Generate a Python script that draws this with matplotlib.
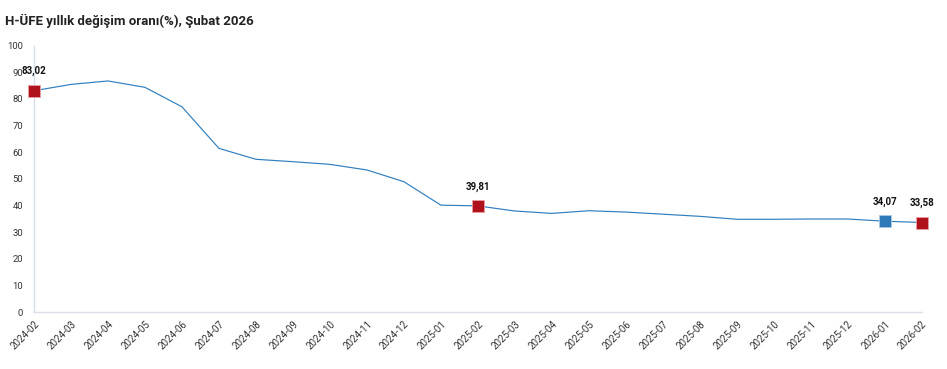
import matplotlib
matplotlib.use("Agg")
import matplotlib.pyplot as plt

months = ["2024-02", "2024-03", "2024-04", "2024-05", "2024-06", "2024-07", "2024-08",
          "2024-09", "2024-10", "2024-11", "2024-12", "2025-01", "2025-02", "2025-03",
          "2025-04", "2025-05", "2025-06", "2025-07", "2025-08", "2025-09", "2025-10",
          "2025-11", "2025-12", "2026-01", "2026-02"]
values = [83.02, 85.4, 86.7, 84.3, 77.0, 61.4, 57.3, 56.4, 55.4, 53.3, 48.9, 40.1,
          39.81, 37.9, 37.0, 38.0, 37.5, 36.7, 35.9, 34.8, 34.8, 34.9, 34.9, 34.07, 33.58]
red_points = ["2024-02", "2025-02", "2026-02"]
blue_points = ["2026-01"]
y_ticks = [0, 10, 20, 30, 40, 50, 60, 70, 80, 90, 100]
title = "H-ÜFE yıllık değişim oranı(%), Şubat 2026"

plt.rcParams['font.family'] = ['Roboto', 'DejaVu Sans']

fig = plt.figure(figsize=(9.47, 3.69), dpi=100)
ax = fig.add_axes([34 / 947, 1 - 312 / 369, (921.7 - 34) / 947, (312 - 45.5) / 369])

x = list(range(len(months)))
ax.plot(x, values, color="#2f7ebf", lw=0.85, zorder=2)

def fmt(v):
    return f"{v:.2f}".replace(".", ",")

for name, color, edge in [(p, "#b0121b", "#e8a0a4") for p in red_points] + \
                         [(p, "#2e78b8", "#a9c8e6") for p in blue_points]:
    i = months.index(name)
    ax.plot(i, values[i], marker="s", ms=8.5, color=color, mec=edge, mew=0.6,
            zorder=3, clip_on=False)
    ax.annotate(fmt(values[i]), (i, values[i]), xytext=(0, 14), textcoords="offset points",
                ha="center", va="center", fontsize=7, fontweight="bold", color="#111111",
                annotation_clip=False)

ax.set_xlim(0, len(months) - 1)
ax.set_ylim(0, 100)
ax.set_yticks(y_ticks)
ax.set_yticklabels([str(t) for t in y_ticks], fontsize=6.8, color="#333333")
ax.set_xticks(x)
ax.set_xticklabels(months, rotation=45, ha="right", rotation_mode="anchor",
                   fontsize=7, color="#333333")
ax.tick_params(axis="both", length=0)
ax.tick_params(axis="y", pad=8)
ax.tick_params(axis="x", pad=5)

for s in ["top", "right"]:
    ax.spines[s].set_visible(False)
ax.spines["left"].set_color("#d5dfec")
ax.spines["bottom"].set_color("#dcdfe6")
ax.spines["left"].set_linewidth(1)
ax.spines["bottom"].set_linewidth(1)

fig.text(5 / 947, 1 - 20.5 / 369, title, fontsize=9.5, fontweight="bold",
         color="#222222", ha="left", va="center")

fig.savefig("out.png", dpi=100)
